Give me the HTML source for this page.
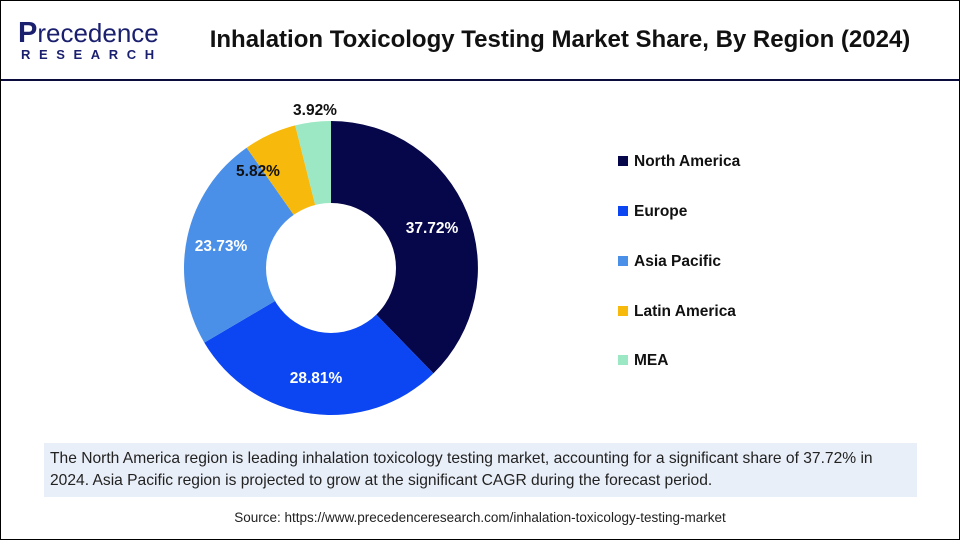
<!DOCTYPE html>
<html><head><meta charset="utf-8"><style>
html,body{margin:0;padding:0;}
body{width:960px;height:540px;position:relative;background:#fff;font-family:"Liberation Sans",Arial,sans-serif;overflow:hidden;}
.frame{position:absolute;left:0;top:0;width:958px;height:538px;border:1px solid #000;}
.hline{position:absolute;left:1px;top:79px;width:958px;height:2px;background:#0c0c3c;}
.title{position:absolute;left:200px;top:26px;width:720px;text-align:center;font-size:24px;font-weight:bold;color:#111;white-space:nowrap;}
.logo1{position:absolute;left:18px;top:17px;font-size:26px;color:#1a1f6e;}
.logo2{position:absolute;left:21px;top:47px;font-size:13px;font-weight:bold;color:#1a1f6e;letter-spacing:8.6px;}
.leg{position:absolute;left:618px;font-size:15.5px;font-weight:bold;color:#111;}
.leg i{display:inline-block;width:10px;height:10px;margin-right:6px;vertical-align:0px;}
.note{position:absolute;left:44px;top:443px;width:873px;height:54px;background:#e9eff8;}
.note div{position:absolute;left:6px;top:5px;width:858px;font-size:15.6px;line-height:22px;color:#222;}
.src{position:absolute;left:0;width:960px;top:510px;text-align:center;font-size:13.5px;color:#222;}
</style></head><body>
<div class="frame"></div>
<div class="logo1"><span style="font-weight:bold;font-size:29px">P</span>recedence</div>
<div class="logo2">RESEARCH</div>
<div class="title">Inhalation Toxicology Testing Market Share, By Region (2024)</div>
<div class="hline"></div>
<svg style="position:absolute;left:0;top:0" width="960" height="540">
<path d="M331,268 L331,121 A147,147 0 0 1 433.4,373.4 Z" fill="#06064a"/>
<path d="M331,268 L433.4,373.4 A147,147 0 0 1 204.3,342.6 Z" fill="#0b46f2"/>
<path d="M331,268 L204.3,342.6 A147,147 0 0 1 246.6,147.7 Z" fill="#4a8fe8"/>
<path d="M331,268 L246.6,147.7 A147,147 0 0 1 295.2,125.4 Z" fill="#f7b90c"/>
<path d="M331,268 L295.2,125.4 A147,147 0 0 1 331,121 Z" fill="#9de8c4"/>
<circle cx="331" cy="268" r="65" fill="#fff"/>
<g font-family="Liberation Sans,Arial,sans-serif" font-weight="bold" font-size="15.5" text-anchor="middle">
<text x="432" y="233" fill="#fff">37.72%</text>
<text x="316" y="383" fill="#fff">28.81%</text>
<text x="221" y="251" fill="#fff">23.73%</text>
<text x="258" y="176" fill="#111">5.82%</text>
<text x="315" y="115" fill="#111">3.92%</text>
</g>
</svg>
<div class="leg" style="top:153px"><i style="background:#06064a"></i>North America</div>
<div class="leg" style="top:203px"><i style="background:#0b46f2"></i>Europe</div>
<div class="leg" style="top:253px"><i style="background:#4a8fe8"></i>Asia Pacific</div>
<div class="leg" style="top:303px"><i style="background:#f7b90c"></i>Latin America</div>
<div class="leg" style="top:352px"><i style="background:#9de8c4"></i>MEA</div>
<div class="note"><div>The North America region is leading inhalation toxicology testing market, accounting for a significant share of 37.72% in 2024. Asia Pacific region is projected to grow at the significant CAGR during the forecast period.</div></div>
<div class="src">Source: https://www.precedenceresearch.com/inhalation-toxicology-testing-market</div>
</body></html>
